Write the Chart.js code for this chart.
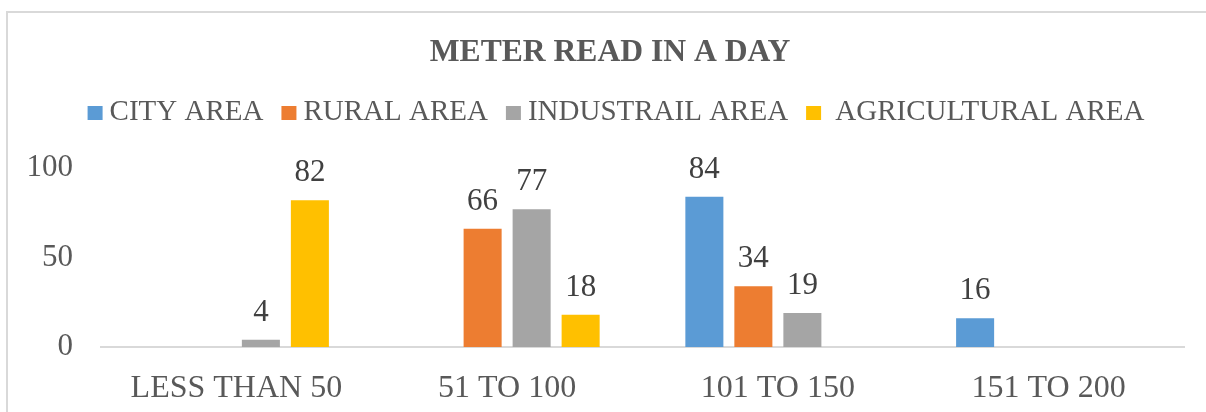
<!DOCTYPE html>
<html>
<head>
<meta charset="utf-8">
<script src="https://cdn.jsdelivr.net/npm/chart.js@4.4.1/dist/chart.umd.min.js"></script>
<style>
  html, body { margin: 0; padding: 0; background: #fff; overflow: hidden; }
  #frame { position: absolute; left: 6px; top: 11px; width: 1400px; height: 600px; border: 2px solid #d9d9d9; box-sizing: border-box; }
  #c { position: absolute; left: 0; top: 0; }
</style>
</head>
<body>
<div id="frame"></div>
<canvas id="c" width="1206" height="412"></canvas>
<script>
const chartTitle = 'METER READ IN A DAY';
const categories = ['LESS THAN 50', '51 TO 100', '101 TO 150', '151 TO 200'];
const seriesNames = ['CITY AREA', 'RURAL AREA', 'INDUSTRAIL AREA', ' AGRICULTURAL AREA'];
const cityArea = [null, null, 84, 16];
const ruralArea = [null, 66, 34, null];
const industrialArea = [4, 77, 19, null];
const agriculturalArea = [82, 18, null, null];
const yTicks = [0, 50, 100];
const colors = ['#5B9BD5', '#ED7D31', '#A5A5A5', '#FFC000'];

const FONT = "'Liberation Serif', 'Times New Roman', serif";

const dataLabels = {
  id: 'dataLabels',
  afterDatasetsDraw(chart) {
    const ctx = chart.ctx;
    ctx.save();
    ctx.font = '31px ' + FONT;
    ctx.fillStyle = '#404040';
    ctx.textAlign = 'center';
    ctx.textBaseline = 'alphabetic';
    chart.data.datasets.forEach((ds, i) => {
      const meta = chart.getDatasetMeta(i);
      meta.data.forEach((el, j) => {
        const v = ds.data[j];
        if (v === null || v === undefined) return;
        ctx.fillText(String(v), el.x, el.y - 19);
      });
    });
    ctx.restore();
  }
};

const titleAndLegend = {
  id: 'titleAndLegend',
  afterDraw(chart) {
    const ctx = chart.ctx;
    ctx.save();
    // title
    ctx.font = 'bold 31.6px ' + FONT;
    ctx.fillStyle = '#595959';
    ctx.textAlign = 'center';
    ctx.textBaseline = 'middle';
    ctx.fillText(chartTitle, 610, 53);
    // legend
    ctx.font = '29px ' + FONT;
    ctx.textAlign = 'left';
    const box = 15, gap = 7, itemGap = 18;
    const items = chart.data.datasets.map(ds => ({ label: ds.label, color: ds.backgroundColor, w: ctx.measureText(ds.label).width }));
    let total = 0;
    items.forEach((it, i) => { total += box + gap + it.w + (i < items.length - 1 ? itemGap : 0); });
    let x = 616 - total / 2;
    const cy = 112;
    items.forEach(it => {
      ctx.fillStyle = it.color;
      ctx.fillRect(x, cy - 6, box, box - 1);
      ctx.fillStyle = '#595959';
      ctx.fillText(it.label, x + box + gap, cy);
      x += box + gap + it.w + itemGap;
    });
    ctx.restore();
  }
};

const datasets = [cityArea, ruralArea, industrialArea, agriculturalArea].map((d, i) => ({
  label: seriesNames[i],
  data: d,
  backgroundColor: colors[i],
  borderWidth: 0,
  categoryPercentage: 0.724,
  barPercentage: 0.776
}));

new Chart(document.getElementById('c'), {
  type: 'bar',
  data: { labels: categories, datasets },
  plugins: [dataLabels, titleAndLegend],
  options: {
    responsive: false,
    animation: false,
    events: [],
    layout: { padding: { left: 0, right: 22, top: 168, bottom: 0 } },
    plugins: {
      legend: { display: false },
      tooltip: { enabled: false },
      title: { display: false }
    },
    scales: {
      x: {
        grid: { display: false, drawTicks: false },
        border: { display: true, color: '#d9d9d9', width: 2 },
        ticks: { color: '#595959', font: { family: FONT, size: 32 }, padding: 22, maxRotation: 0 },
        afterFit(scale) { scale.height = 65; }
      },
      y: {
        min: 0, max: 100,
        afterBuildTicks(scale) { scale.ticks = yTicks.map(v => ({ value: v })); },
        grid: { display: false, drawTicks: false },
        border: { display: false },
        ticks: { color: '#595959', font: { family: FONT, size: 31 }, padding: 28 },
        afterFit(scale) { scale.width = 101; }
      }
    }
  }
});
</script>
</body>
</html>
